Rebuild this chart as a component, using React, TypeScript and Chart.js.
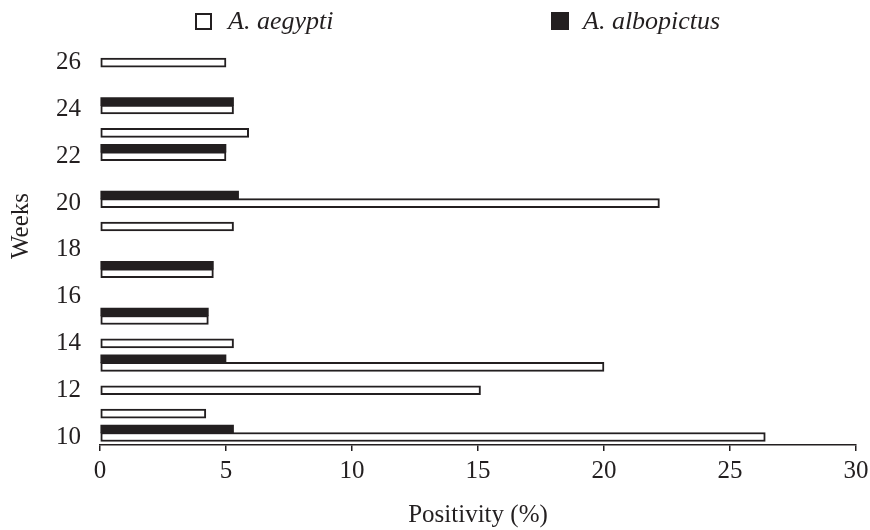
import React, { useEffect, useRef } from 'react';
import { Chart, registerables } from 'chart.js';

Chart.register(...registerables);

const weeks = [10, 11, 12, 13, 14, 15, 16, 17, 18, 19, 20, 21, 22, 23, 24, 25, 26];
const aegypti = [26.4, 4.2, 15.1, 20.0, 5.3, 4.3, null, 4.5, null, 5.3, 22.2, null, 5.0, 5.9, 5.3, null, 5.0];
const albopictus = [5.3, null, null, 5.0, null, 4.3, null, 4.5, null, null, 5.5, null, 5.0, null, 5.3, null, null];
const weekTicks = [10, 12, 14, 16, 18, 20, 22, 24, 26];
const positivityTicks = [0, 5, 10, 15, 20, 25, 30];
const seriesNames = ['A. aegypti', 'A. albopictus'];
const xTitle = 'Positivity (%)';
const yTitle = 'Weeks';

const FAMILY = '"Liberation Serif", "Times New Roman", Times, serif';
const INK = '#231f20';

function toPoints(values: (number | null)[]) {
  return weeks
    .map((w, i) => ({ y: w, x: values[i] }))
    .filter((p) => p.x !== null) as { x: number; y: number }[];
}

const overlayPlugin = {
  id: 'overlayText',
  afterDraw(chart: any) {
    const ctx = chart.ctx as CanvasRenderingContext2D;
    ctx.save();
    ctx.fillStyle = INK;
    ctx.font = `25px ${FAMILY}`;
    ctx.textAlign = 'center';
    ctx.textBaseline = 'middle';
    ctx.translate(21, 226);
    ctx.rotate(-Math.PI / 2);
    ctx.fillText(yTitle, 0, 0);
    ctx.restore();

    ctx.save();
    ctx.font = `italic 26px ${FAMILY}`;
    ctx.textAlign = 'left';
    ctx.textBaseline = 'alphabetic';
    ctx.fillStyle = '#ffffff';
    ctx.strokeStyle = INK;
    ctx.lineWidth = 2;
    ctx.fillRect(196, 14, 15, 15);
    ctx.strokeRect(196, 14, 15, 15);
    ctx.fillStyle = INK;
    ctx.fillText(seriesNames[0], 228, 29);
    ctx.fillRect(551, 12, 18, 18);
    ctx.fillText(seriesNames[1], 583, 29);
    ctx.restore();
  },
};

export default function App() {
  const canvasRef = useRef<HTMLCanvasElement | null>(null);

  useEffect(() => {
    document.body.style.margin = '0';
    const canvas = canvasRef.current;
    if (!canvas) return;
    const chart = new Chart(canvas, {
      type: 'bar',
      data: {
        datasets: [
          {
            label: seriesNames[1],
            data: toPoints(albopictus),
            backgroundColor: INK,
            borderColor: INK,
            borderWidth: 0,
            barThickness: 8,
          },
          {
            label: seriesNames[0],
            data: toPoints(aegypti),
            backgroundColor: '#ffffff',
            borderColor: INK,
            borderWidth: 2,
            borderSkipped: false,
            barThickness: 9,
          },
          {
            label: '',
            data: [],
            barThickness: 8,
          },
        ] as any,
      },
      options: {
        indexAxis: 'y',
        responsive: false,
        animation: false,
        layout: { padding: { top: 50, right: 14, bottom: 0, left: 0 } },
        plugins: {
          legend: { display: false },
          tooltip: { enabled: false },
          title: { display: false },
        },
        scales: {
          x: {
            type: 'linear',
            position: 'bottom',
            min: 0,
            max: 30,
            afterBuildTicks: (s: any) => {
              s.ticks = positivityTicks.map((v) => ({ value: v }));
            },
            afterFit: (s: any) => {
              s.height = 85;
              s.paddingLeft = 0;
              s.paddingRight = 0;
            },
            ticks: {
              color: INK,
              font: { family: FAMILY, size: 25 },
              padding: 5,
              maxRotation: 0,
              autoSkip: false,
            },
            grid: {
              display: true,
              drawOnChartArea: false,
              drawTicks: true,
              tickLength: 6,
              color: INK,
              lineWidth: 1.5,
            },
            border: { display: true, color: INK, width: 1.5 },
            title: {
              display: true,
              text: xTitle,
              color: INK,
              font: { family: FAMILY, size: 25 },
              padding: { top: 2, bottom: 0 },
            },
          },
          y: {
            type: 'linear',
            position: 'left',
            offset: false,
            min: 9.658,
            max: 26.543,
            afterBuildTicks: (s: any) => {
              s.ticks = weekTicks.map((v) => ({ value: v }));
            },
            afterFit: (s: any) => {
              s.width = 100;
              s.paddingTop = 0;
              s.paddingBottom = 0;
            },
            ticks: {
              color: INK,
              font: { family: FAMILY, size: 25 },
              padding: 19,
              autoSkip: false,
            },
            grid: { display: false, drawTicks: false, offset: false },
            border: { display: false },
          },
        },
      } as any,
      plugins: [overlayPlugin],
    });
    return () => chart.destroy();
  }, []);

  return (
    <div style={{ width: 870, height: 530, background: '#ffffff' }}>
      <canvas ref={canvasRef} width={870} height={530} style={{ display: 'block' }} />
    </div>
  );
}
